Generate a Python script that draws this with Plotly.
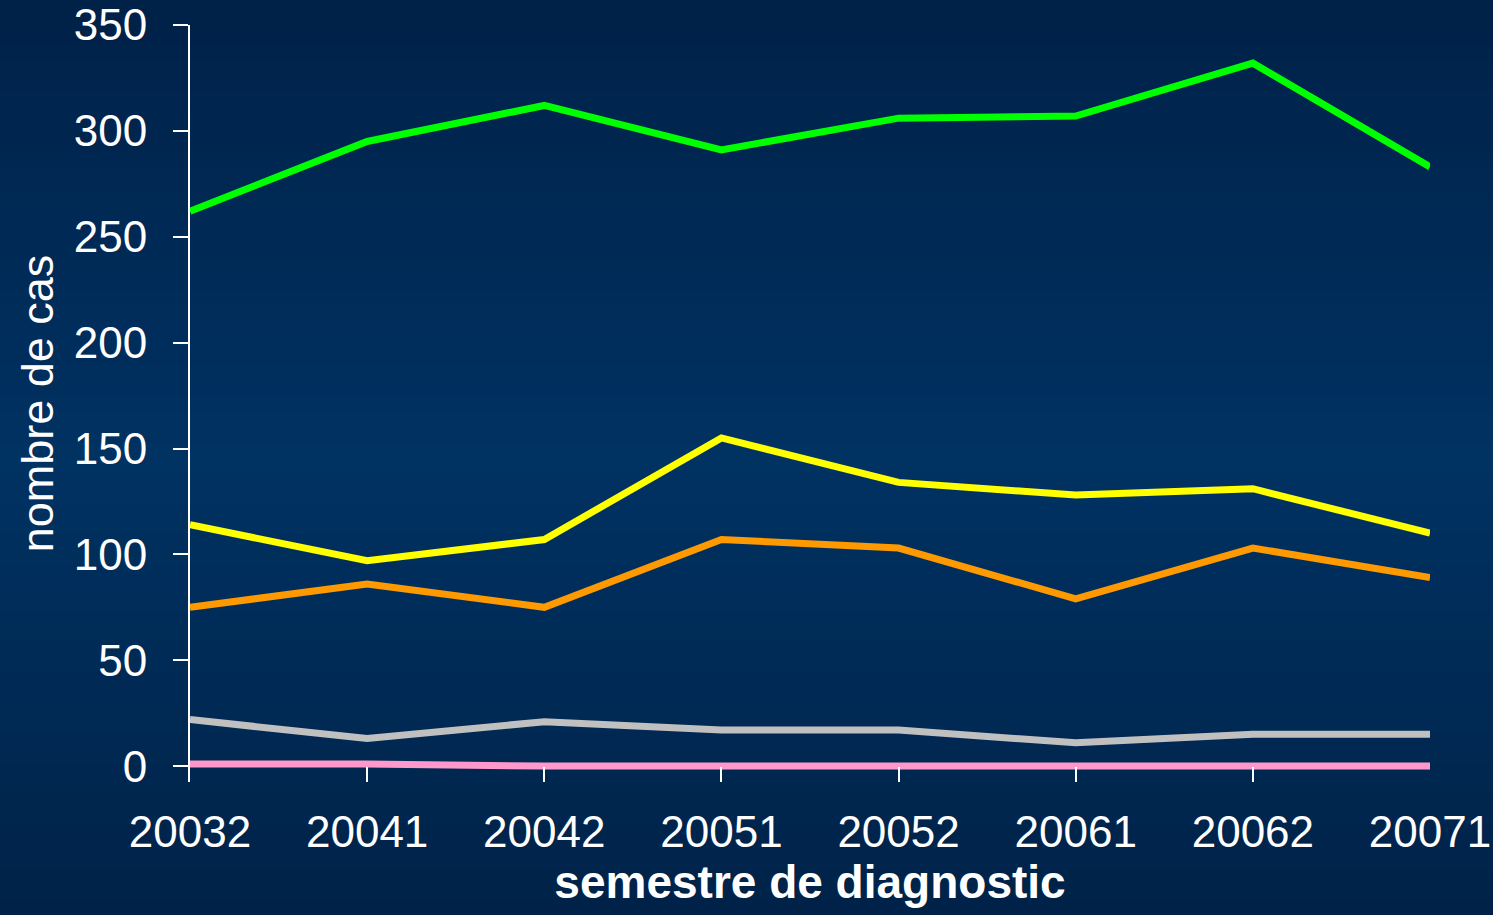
import plotly.graph_objects as go

semestres = ["20032", "20041", "20042", "20051", "20052", "20061", "20062", "20071"]
serie_verte = [262, 295, 312, 291, 306, 307, 332, 283]
serie_jaune = [114, 97, 107, 155, 134, 128, 131, 110]
serie_orange = [75, 86, 75, 107, 103, 79, 103, 89]
serie_grise = [22, 13, 21, 17, 17, 11, 15, 15]
serie_rose = [1, 1, 0, 0, 0, 0, 0, 0]

series = [
    (serie_verte, "#00FF00"),
    (serie_jaune, "#FFFF00"),
    (serie_orange, "#FF9900"),
    (serie_grise, "#C0C0C0"),
    (serie_rose, "#FF99CC"),
]

W, H = 1493, 915
ml, mr, mt, mb = 190, 63, 25, 133

fig = go.Figure()
for vals, col in series:
    fig.add_trace(go.Scatter(
        x=semestres, y=vals, mode="lines",
        line=dict(color=col, width=7),
        cliponaxis=False, showlegend=False, hoverinfo="x+y",
    ))

# vertical background gradient (dark top / lighter middle / dark bottom)
top = (0, 33, 72)
mid = (0, 50, 98)
bot = (0, 34, 72)
n = 60
pw = W - ml - mr
ph = H - mt - mb
shapes = []
for i in range(n):
    t = (i + 0.5) / n
    if t < 0.5:
        f = t / 0.5
        c = [round(top[k] + (mid[k] - top[k]) * f) for k in range(3)]
    else:
        f = (t - 0.5) / 0.5
        c = [round(mid[k] + (bot[k] - mid[k]) * f) for k in range(3)]
    y_top_px = i * H / n
    y_bot_px = (i + 1) * H / n + 1
    shapes.append(dict(
        type="rect", xref="paper", yref="paper", layer="below",
        x0=-ml / pw, x1=1 + mr / pw,
        y0=1 - (y_bot_px - mt) / ph, y1=1 - (y_top_px - mt) / ph,
        line=dict(width=0), fillcolor=f"rgb({c[0]},{c[1]},{c[2]})",
    ))

fig.update_layout(
    width=W, height=H,
    margin=dict(l=ml, r=mr, t=mt, b=mb),
    paper_bgcolor="rgb(0,44,88)",
    plot_bgcolor="rgba(0,0,0,0)",
    font=dict(family="Liberation Sans, Arial, sans-serif", color="white"),
    shapes=shapes,
    xaxis=dict(
        type="category", range=[0, 7], automargin=False,
        showgrid=False, zeroline=False, showline=False,
        ticks="inside", ticklen=15, tickwidth=2, tickcolor="white",
        tickfont=dict(size=44, color="white"),
        ticklabelstandoff=20,
        title=dict(text="<b>semestre de diagnostic</b>", font=dict(size=46, color="white"), standoff=6),
    ),
    yaxis=dict(
        range=[-7.5, 350], tickvals=[0, 50, 100, 150, 200, 250, 300, 350],
        automargin=False,
        showgrid=False, zeroline=True, zerolinecolor="white", zerolinewidth=2,
        showline=True, linecolor="white", linewidth=2,
        ticks="outside", ticklen=15, tickwidth=2, tickcolor="white",
        tickfont=dict(size=44, color="white"),
        ticklabelstandoff=17,
        title=dict(text="nombre de cas", font=dict(size=45, color="white"), standoff=6),
    ),
)

fig.write_html(
    "out.html",
    config={"displayModeBar": False},
    post_script="document.body.style.margin='0';document.body.style.overflow='hidden';",
)
